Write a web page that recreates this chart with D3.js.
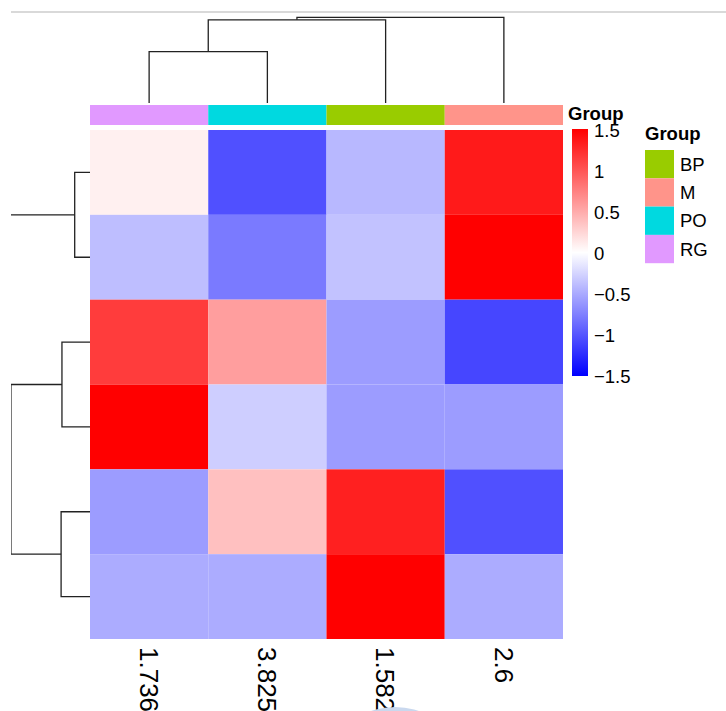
<!DOCTYPE html>
<html lang="en">
<head>
<meta charset="UTF-8">
<title>Heatmap</title>
<script src="https://d3js.org/d3.v7.min.js"></script>
<style>
  body { margin: 0; background: #fff; }
  text { font-family: "Liberation Sans", Arial, sans-serif; fill: #000; }
  .dendro { fill: none; stroke: #222; stroke-width: 1.3px; }
</style>
</head>
<body>
<script>
// data
const colLabels = ["1.736", "3.825", "1.582", "2.6"];
const colGroups = ["RG", "PO", "BP", "M"];
const groupNames = ["BP", "M", "PO", "RG"];
const groupColors = ["#99CC00", "#FF948A", "#00D9E0", "#E199FF"];
const rowIds = ["r1", "r2", "r3", "r4", "r5", "r6"];
const row1 = [0.09, -1.03, -0.42, 1.35];
const row2 = [-0.38, -0.78, -0.36, 1.5];
const row3 = [1.15, 0.57, -0.58, -1.09];
const row4 = [1.5, -0.29, -0.58, -0.58];
const row5 = [-0.58, 0.37, 1.31, -1.03];
const row6 = [-0.49, -0.49, 1.5, -0.49];
const colorTicks = [1.5, 1, 0.5, 0, -0.5, -1, -1.5];

// cluster trees (h = merge height, leaf = index)
const colTree = { h: 1, children: [
  { h: 0.97, children: [ { h: 0.6, children: [ { leaf: 0 }, { leaf: 1 } ] }, { leaf: 2 } ] },
  { leaf: 3 } ] };
const rowTree = { h: 1, children: [
  { h: 0.18, children: [ { leaf: 0 }, { leaf: 1 } ] },
  { h: 0.93, children: [
    { h: 0.33, children: [ { leaf: 2 }, { leaf: 3 } ] },
    { h: 0.34, children: [ { leaf: 4 }, { leaf: 5 } ] } ] } ] };

const rows = [row1, row2, row3, row4, row5, row6];
const W = 726, H = 711;

const svg = d3.select("body").append("svg")
    .attr("width", W).attr("height", H);

// crop edge line at the top
svg.append("line")
    .attr("x1", 11).attr("x2", W).attr("y1", 12).attr("y2", 12)
    .attr("stroke", "#d9d9d9").attr("stroke-width", 2);

svg.append("defs").append("clipPath").attr("id", "crop")
  .append("rect").attr("x", 11).attr("y", 12).attr("width", W).attr("height", H);

const x = d3.scaleBand().domain(d3.range(colLabels.length)).range([90, 563]);
const y = d3.scaleBand().domain(rowIds).range([130, 639]);
const color = d3.scaleLinear().domain([-1.5, 0, 1.5])
    .range(["#0000FF", "#FFFFFF", "#FF0000"]).clamp(true);

// heatmap cells
const cells = [];
rows.forEach((r, i) => r.forEach((v, j) => cells.push({ i, j, v })));
svg.append("g").selectAll("rect")
    .data(cells)
  .enter().append("rect")
    .attr("x", d => x(d.j))
    .attr("y", d => y(rowIds[d.i]))
    .attr("width", x.bandwidth())
    .attr("height", y.bandwidth())
    .attr("fill", d => color(d.v));

// annotation bar
svg.append("g").selectAll("rect")
    .data(colGroups)
  .enter().append("rect")
    .attr("x", (d, j) => x(j))
    .attr("y", 105)
    .attr("width", x.bandwidth())
    .attr("height", 20)
    .attr("fill", d => groupColors[groupNames.indexOf(d)]);

// dendrograms
function elbows(tree, leafPos, hScale, horizontal) {
  const root = d3.hierarchy(tree);
  root.eachAfter(n => {
    n.pos = n.children ? d3.mean(n.children, c => c.pos) : leafPos(n.data.leaf);
    n.ht = n.children ? hScale(n.data.h) : hScale(0);
  });
  const paths = [];
  root.each(n => {
    if (!n.children) return;
    const [a, b] = n.children;
    if (horizontal) {
      paths.push(`M${a.ht},${a.pos}H${n.ht}V${b.pos}H${b.ht}`);
    } else {
      paths.push(`M${a.pos},${a.ht}V${n.ht}H${b.pos}V${b.ht}`);
    }
  });
  return paths;
}

const colH = d3.scaleLinear().domain([0, 1]).range([103, 17.3]);
const rowH = d3.scaleLinear().domain([0, 1]).range([90, 5]);

const dg = svg.append("g").attr("clip-path", "url(#crop)");
dg.selectAll(".cd")
    .data(elbows(colTree, i => x(i) + x.bandwidth() / 2, colH, false))
  .enter().append("path").attr("class", "dendro").attr("d", d => d);
dg.selectAll(".rd")
    .data(elbows(rowTree, i => y(rowIds[i]) + y.bandwidth() / 2, rowH, true))
  .enter().append("path").attr("class", "dendro").attr("d", d => d);

// column labels (rotated)
svg.append("g").selectAll("text")
    .data(colLabels)
  .enter().append("text")
    .attr("transform", (d, j) => `translate(${x(j) + x.bandwidth() / 2},647) rotate(90)`)
    .attr("dy", "0.36em")
    .style("font-size", "26px")
    .text(d => d);

// colour bar
const cy = d3.scaleLinear().domain([-1.5, 1.5]).range([376, 130]);
const grad = svg.select("defs").append("linearGradient")
    .attr("id", "cbar").attr("x1", 0).attr("x2", 0).attr("y1", 1).attr("y2", 0);
d3.range(-1.5, 1.51, 0.25).forEach(v => {
  grad.append("stop").attr("offset", (v + 1.5) / 3).attr("stop-color", color(v));
});
svg.append("rect")
    .attr("x", 572).attr("y", cy(1.5) - 1)
    .attr("width", 16).attr("height", cy(-1.5) - cy(1.5) + 1)
    .attr("fill", "url(#cbar)");
svg.append("g").selectAll("text")
    .data(colorTicks)
  .enter().append("text")
    .attr("x", 594)
    .attr("y", d => cy(d))
    .attr("dy", "0.36em")
    .style("font-size", "18.5px")
    .text(d => d < 0 ? "\u2212" + Math.abs(d) : String(d));
svg.append("text")
    .attr("x", 568).attr("y", 120)
    .style("font-size", "18.5px").style("font-weight", "bold")
    .text("Group");

// group legend
svg.append("text")
    .attr("x", 645).attr("y", 140)
    .style("font-size", "18.5px").style("font-weight", "bold")
    .text("Group");
const leg = svg.append("g").selectAll("g")
    .data(groupNames)
  .enter().append("g")
    .attr("transform", (d, i) => `translate(645,${150 + i * 28.3})`);
leg.append("rect")
    .attr("width", 29).attr("height", 28.3)
    .attr("fill", (d, i) => groupColors[i]);
leg.append("text")
    .attr("x", 35).attr("y", 14.2).attr("dy", "0.36em")
    .style("font-size", "18.5px")
    .text(d => d);

// stray blob at the bottom edge
svg.append("ellipse")
    .attr("cx", 395).attr("cy", 740).attr("rx", 50).attr("ry", 33)
    .attr("fill", "#c9d8ee");
</script>
</body>
</html>
